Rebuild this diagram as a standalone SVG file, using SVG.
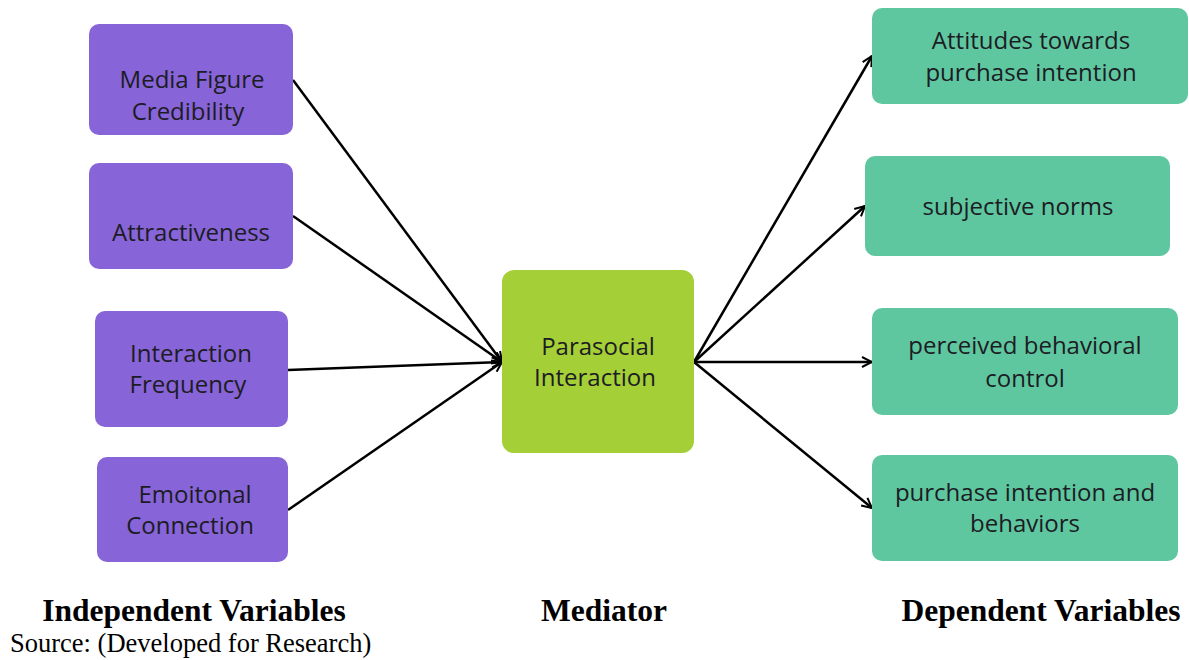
<svg xmlns="http://www.w3.org/2000/svg" width="1189" height="660" viewBox="0 0 1189 660">
<defs>
<marker id="arr" viewBox="0 0 12 12" refX="11" refY="6" markerWidth="12" markerHeight="12" markerUnits="userSpaceOnUse" orient="auto">
<path d="M1,1 L11,6 L1,11" fill="none" stroke="#000" stroke-width="2"/>
</marker>
<style>
.iv{fill:#8764D8}
.md{fill:#A5CF36}
.dv{fill:#5FC79F}
.t{font-family:"Open Sans","Liberation Sans",sans-serif;font-size:24px;fill:#1c1c24;text-anchor:middle}
.h{font-family:"Liberation Serif",serif;font-size:31.5px;font-weight:bold;fill:#000;text-anchor:middle}
.s{font-family:"Liberation Serif",serif;font-size:26.5px;fill:#000}
.c{stroke:#000;stroke-width:2.5;fill:none;marker-end:url(#arr)}
</style>
</defs>
<rect width="1189" height="660" fill="#fff"/>
<g id="connectors">
<line class="c" x1="293" y1="80" x2="502" y2="362"/>
<line class="c" x1="293" y1="216" x2="502" y2="362"/>
<line class="c" x1="288" y1="370" x2="502" y2="362"/>
<line class="c" x1="288" y1="510" x2="502" y2="362"/>
<line class="c" x1="694" y1="362" x2="872" y2="56"/>
<line class="c" x1="694" y1="362" x2="865" y2="206"/>
<line class="c" x1="694" y1="362" x2="872" y2="362"/>
<line class="c" x1="694" y1="362" x2="872" y2="508"/>
</g>
<g id="iv1"><rect class="iv" x="89" y="24" width="204" height="111" rx="10"/><text class="t" x="192" y="88">Media Figure</text><text class="t" x="188" y="120">Credibility</text></g>
<g id="iv2"><rect class="iv" x="89" y="163" width="204" height="106" rx="10"/><text class="t" x="191" y="241">Attractiveness</text></g>
<g id="iv3"><rect class="iv" x="95" y="311" width="193" height="116" rx="10"/><text class="t" x="191" y="362">Interaction</text><text class="t" x="188" y="393">Frequency</text></g>
<g id="iv4"><rect class="iv" x="97" y="457" width="191" height="105" rx="10"/><text class="t" x="195" y="503">Emoitonal</text><text class="t" x="190" y="534">Connection</text></g>
<g id="mediator"><rect class="md" x="502" y="270" width="192" height="183" rx="12"/><text class="t" x="598" y="355">Parasocial</text><text class="t" x="595" y="386">Interaction</text></g>
<g id="dv1"><rect class="dv" x="872" y="8" width="316" height="96" rx="10"/><text class="t" x="1031" y="49">Attitudes towards</text><text class="t" x="1031" y="81">purchase intention</text></g>
<g id="dv2"><rect class="dv" x="865" y="156" width="305" height="100" rx="10"/><text class="t" x="1018" y="215">subjective norms</text></g>
<g id="dv3"><rect class="dv" x="872" y="308" width="306" height="107" rx="10"/><text class="t" x="1025" y="354">perceived behavioral</text><text class="t" x="1025" y="387">control</text></g>
<g id="dv4"><rect class="dv" x="872" y="455" width="306" height="106" rx="10"/><text class="t" x="1025" y="501">purchase intention and</text><text class="t" x="1025" y="532">behaviors</text></g>
<g id="labels">
<text class="h" x="194" y="621">Independent Variables</text>
<text class="h" x="604" y="621">Mediator</text>
<text class="h" x="1041" y="621">Dependent Variables</text>
<text class="s" x="10" y="652">Source: (Developed for Research)</text>
</g>
</svg>
